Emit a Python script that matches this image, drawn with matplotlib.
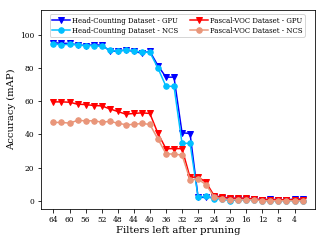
import matplotlib
matplotlib.use("Agg")
import matplotlib.pyplot as plt

plt.rcParams['font.family'] = ['DejaVu Serif']

filters = list(range(64, 0, -2))

head_gpu = [95.2, 95.0, 94.8, 94.0, 93.5, 94.0, 93.8, 90.5, 90.0, 91.0, 90.0, 89.0,
            90.0, 81.5, 74.5, 74.5, 41.0, 40.5, 2.0, 2.0, 2.0, 1.5, 1.0, 1.0,
            1.0, 1.0, 0.5, 1.0, 0.5, 0.5, 1.0, 1.0]
head_ncs = [94.5, 94.0, 94.3, 94.0, 93.5, 93.5, 93.0, 91.0, 90.0, 91.0, 90.5, 89.5,
            89.5, 80.0, 69.0, 69.0, 34.6, 34.6, 2.2, 2.6, 1.2, 1.0, 0.0, 0.5,
            0.5, 0.6, 0.0, 0.0, 0.0, 0.0, 0.0, 0.0]
voc_gpu = [59.6, 59.6, 59.4, 58.2, 58.0, 57.4, 57.2, 55.4, 53.8, 52.2, 52.6, 53.0,
           52.6, 40.6, 31.4, 31.4, 31.4, 14.0, 14.4, 11.0, 3.0, 2.2, 1.6, 1.6,
           1.6, 1.0, 0.6, 0.6, 0.6, 0.6, 0.6, 0.6]
voc_ncs = [47.2, 47.2, 46.8, 48.4, 48.2, 48.2, 47.4, 47.8, 46.8, 45.8, 46.0, 46.6,
           46.0, 37.2, 28.4, 28.0, 27.6, 12.6, 13.0, 9.6, 2.2, 1.2, 0.6, 0.6,
           0.6, 0.6, 0.0, 0.0, 0.0, 0.0, 0.0, 0.0]

xticks = list(range(64, 0, -4))

fig = plt.figure(figsize=(4.5, 3.375), dpi=72)
ax = fig.add_axes([41/324, 1-209/243, (315-41)/324, (209-10)/243])

ms = 5.5
ax.plot(filters, head_gpu, color='#0000ff', marker='v', markersize=ms, lw=1.5,
        label='Head-Counting Dataset - GPU')
ax.plot(filters, head_ncs, color='#00bfff', marker='o', markersize=ms, lw=1.5,
        label='Head-Counting Dataset - NCS')
ax.plot(filters, voc_gpu, color='#ff0000', marker='v', markersize=ms, lw=1.5,
        label='Pascal-VOC Dataset - GPU')
ax.plot(filters, voc_ncs, color='#e9967a', marker='o', markersize=ms, lw=1.5,
        label='Pascal-VOC Dataset - NCS')

ax.set_xlim(67.1, -1.1)
ax.set_ylim(-5, 115)
ax.set_xticks(xticks)
ax.set_yticks([0, 20, 40, 60, 80, 100])
ax.tick_params(labelsize=7.5)
ax.set_xlabel('Filters left after pruning', fontsize=10, labelpad=2)
ax.set_ylabel('Accuracy (mAP)', fontsize=10, labelpad=4)
ax.legend(loc='upper center', ncol=2, fontsize=7, handlelength=2.6,
          handletextpad=0.3, borderpad=0.3, labelspacing=0.3, columnspacing=1.6,
          bbox_to_anchor=(0.497, 0.995))

fig.savefig('out.png', dpi=72)
